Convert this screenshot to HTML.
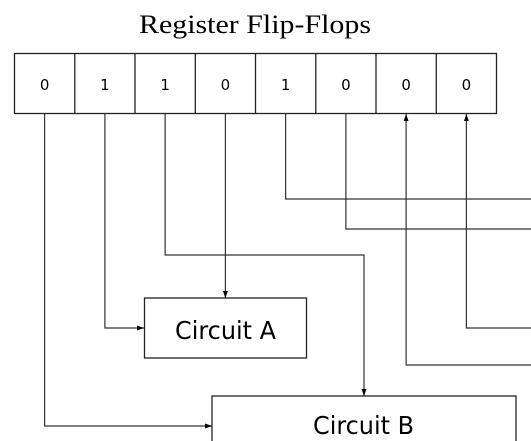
<!DOCTYPE html>
<html><head><meta charset="utf-8"><style>
html,body{margin:0;padding:0;background:#fff;}
svg{display:block;}
</style></head><body>
<svg width="531" height="441" viewBox="0 0 531 441" xmlns="http://www.w3.org/2000/svg">
<defs>
<marker id="a" viewBox="0 0 10 10" refX="10" refY="5" markerWidth="7" markerHeight="7" orient="auto-start-reverse" markerUnits="userSpaceOnUse">
<path d="M0,1.5 L10,5 L0,8.5 Z" fill="#000"/>
</marker>
</defs>
<text x="139" y="33" font-family="Liberation Serif, serif" font-size="26" textLength="232" lengthAdjust="spacingAndGlyphs">Register Flip-Flops</text>
<g fill="#fff" stroke="#222" stroke-width="1.3">
<rect x="14.5" y="53.5" width="482" height="60"/>
</g>
<g stroke="#222" stroke-width="1.3">
<line x1="74.8" y1="53.5" x2="74.8" y2="113.5"/>
<line x1="135" y1="53.5" x2="135" y2="113.5"/>
<line x1="195.3" y1="53.5" x2="195.3" y2="113.5"/>
<line x1="255.5" y1="53.5" x2="255.5" y2="113.5"/>
<line x1="315.8" y1="53.5" x2="315.8" y2="113.5"/>
<line x1="376" y1="53.5" x2="376" y2="113.5"/>
<line x1="436.3" y1="53.5" x2="436.3" y2="113.5"/>
</g>
<g font-family="DejaVu Sans, sans-serif" font-size="15" text-anchor="middle">
<text x="44.6" y="90">0</text>
<text x="104.9" y="90">1</text>
<text x="165.1" y="90">1</text>
<text x="225.4" y="90">0</text>
<text x="285.6" y="90">1</text>
<text x="345.9" y="90">0</text>
<text x="406.1" y="90">0</text>
<text x="466.4" y="90">0</text>
</g>
<g fill="none" stroke="#333" stroke-width="1.2">
<path d="M44.6,113.5 V426 H212" marker-end="url(#a)"/>
<path d="M104.9,113.5 V328 H144" marker-end="url(#a)"/>
<path d="M165.1,113.5 V255 H364 V396" marker-end="url(#a)"/>
<path d="M225.4,113.5 V298" marker-end="url(#a)"/>
<path d="M285.6,113.5 V199 H531"/>
<path d="M345.9,113.5 V229 H531"/>
<path d="M531,365 H406.1 V114" marker-end="url(#a)"/>
<path d="M531,328 H466.4 V114" marker-end="url(#a)"/>
</g>
<rect x="144.5" y="298" width="162" height="60" fill="#fff" stroke="#222" stroke-width="1.3"/>
<rect x="212" y="396" width="304" height="60" fill="#fff" stroke="#222" stroke-width="1.3"/>
<text x="225.5" y="339" font-family="DejaVu Sans, sans-serif" font-size="25" text-anchor="middle" textLength="101" lengthAdjust="spacingAndGlyphs">Circuit A</text>
<text x="363.5" y="434" font-family="DejaVu Sans, sans-serif" font-size="25" text-anchor="middle" textLength="101" lengthAdjust="spacingAndGlyphs">Circuit B</text>
</svg>
</body></html>
